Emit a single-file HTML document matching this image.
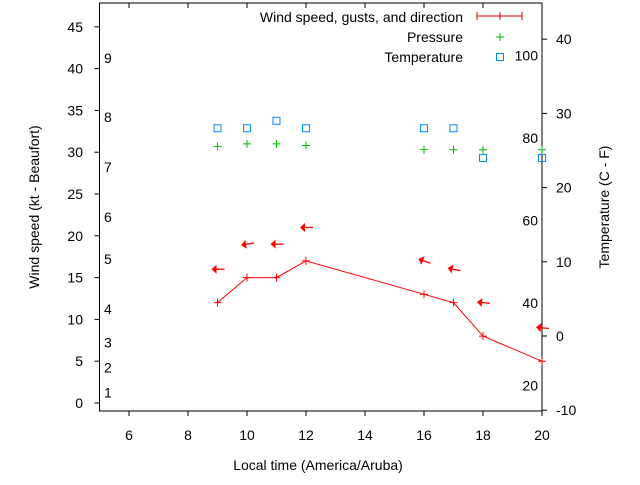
<!DOCTYPE html>
<html><head><meta charset="utf-8"><style>
body{margin:0;background:#fff}
svg text{font-family:"Liberation Sans",sans-serif;font-size:14px;fill:#000}
</style></head><body>
<svg id="c" width="640" height="480" xmlns="http://www.w3.org/2000/svg"></svg>
<script>
const hours=[9,10,11,12,16,17,18,20];
const windKt=[12,15,15,17,13,12,8,5];
const gustKt=[16,19,19,21,17,16,12,9];
const dirTilt=[0,-10,0,0,20,12,6,6];
const pressure=[30.7,31,31,30.8,30.3,30.3,30.3,30.3];
const tempC=[28,28,29,28,28,28,24,24];
const xTicks=[6,8,10,12,14,16,18,20];
const yTicks=[0,5,10,15,20,25,30,35,40,45];
const y2Ticks=[-10,0,10,20,30,40];
const beaufort=[[1,1],[2,4],[3,7],[4,11],[5,17],[6,22],[7,28],[8,34],[9,41]];
const fahr=[20,40,60,80,100];
const L=99.5,R=542,T=3,B=411;
const X=v=>L+(v-5)*(R-L)/15;
const Y=v=>403-v*8.36;
const Y2=v=>336-v*7.42;
const s=document.getElementById('c');const NS='http://www.w3.org/2000/svg';
function mk(t,a,p){const e=document.createElementNS(NS,t);for(const k in a)e.setAttribute(k,a[k]);(p||s).appendChild(e);return e;}
function txt(x,y,str,anchor,name){const e=mk('text',{x:x,y:y,'text-anchor':anchor||'start'});e.textContent=str;return e;}
const box=mk('rect',{x:L,y:T,width:R-L,height:B-T,fill:'none',stroke:'#000'});

xTicks.forEach(v=>{mk('line',{x1:X(v),x2:X(v),y1:B,y2:B+5,stroke:'#000'});mk('line',{x1:X(v),x2:X(v),y1:T,y2:T+5,stroke:'#000'});txt(X(v),440,v,'middle','x-tick-label');});
yTicks.forEach(v=>{mk('line',{x1:L-5,x2:L,y1:Y(v),y2:Y(v),stroke:'#000'});txt(83,Y(v)+5,v,'end','y-tick-label');});
y2Ticks.forEach(v=>{mk('line',{x1:R,x2:R+5,y1:Y2(v),y2:Y2(v),stroke:'#000'});txt(556,Y2(v)+5,v,'start','y2-tick-label');});
beaufort.forEach(b=>txt(104,Y(b[1])+3,b[0],'start','beaufort-label'));
fahr.forEach(f=>txt(538,Y2((f-32)*5/9)+5,f,'end','fahrenheit-label'));
txt(318,470,'Local time (America/Aruba)','middle','x-axis-title');
const yt=txt(0,0,'Wind speed (kt - Beaufort)','middle','y-axis-title');yt.setAttribute('transform','translate(39,207) rotate(-90)');
const yt2=txt(0,0,'Temperature (C - F)','middle','y2-axis-title');yt2.setAttribute('transform','translate(609,207) rotate(-90)');
const pl=mk('polyline',{points:hours.map((h,i)=>X(h)+','+Y(windKt[i])).join(' '),fill:'none',stroke:'#f00'});

hours.forEach((h,i)=>{const x=X(h),y=Y(windKt[i]);const g=mk('path',{d:`M${x-4},${y}h8M${x},${y-4}v8`,stroke:'#f00'});});
hours.forEach((h,i)=>{const x=X(h),y=Y(gustKt[i]);const g=mk('g',{transform:`translate(${x},${y}) rotate(${dirTilt[i]})`});

mk('line',{x1:-4,y1:0,x2:7,y2:0,stroke:'#f00','stroke-width':1.3},g);mk('path',{d:'M-6,0L-1,-4.5L-1,4.5Z',fill:'#f00'},g);});
hours.forEach((h,i)=>{const x=X(h),y=Y(pressure[i]);const p=mk('path',{d:`M${x-4},${y}h8M${x},${y-4}v8`,stroke:'#0b0'});});
hours.forEach((h,i)=>{const r=mk('rect',{x:X(h)-3.5,y:Y2(tempC[i])-3.5,width:7,height:7,fill:'none',stroke:'#08f'});});
txt(463,22,'Wind speed, gusts, and direction','end','legend-wind');
mk('path',{d:'M477,16H522M477,12v8M522,12v8M500,12v8',stroke:'#d00'});
txt(463,42,'Pressure','end','legend-pressure');
mk('path',{d:'M496,37h8M500,33v8',stroke:'#0b0'});
txt(463,62,'Temperature','end','legend-temperature');
mk('rect',{x:496.5,y:53.5,width:7,height:7,fill:'none',stroke:'#08f'});
</script>
</body></html>
